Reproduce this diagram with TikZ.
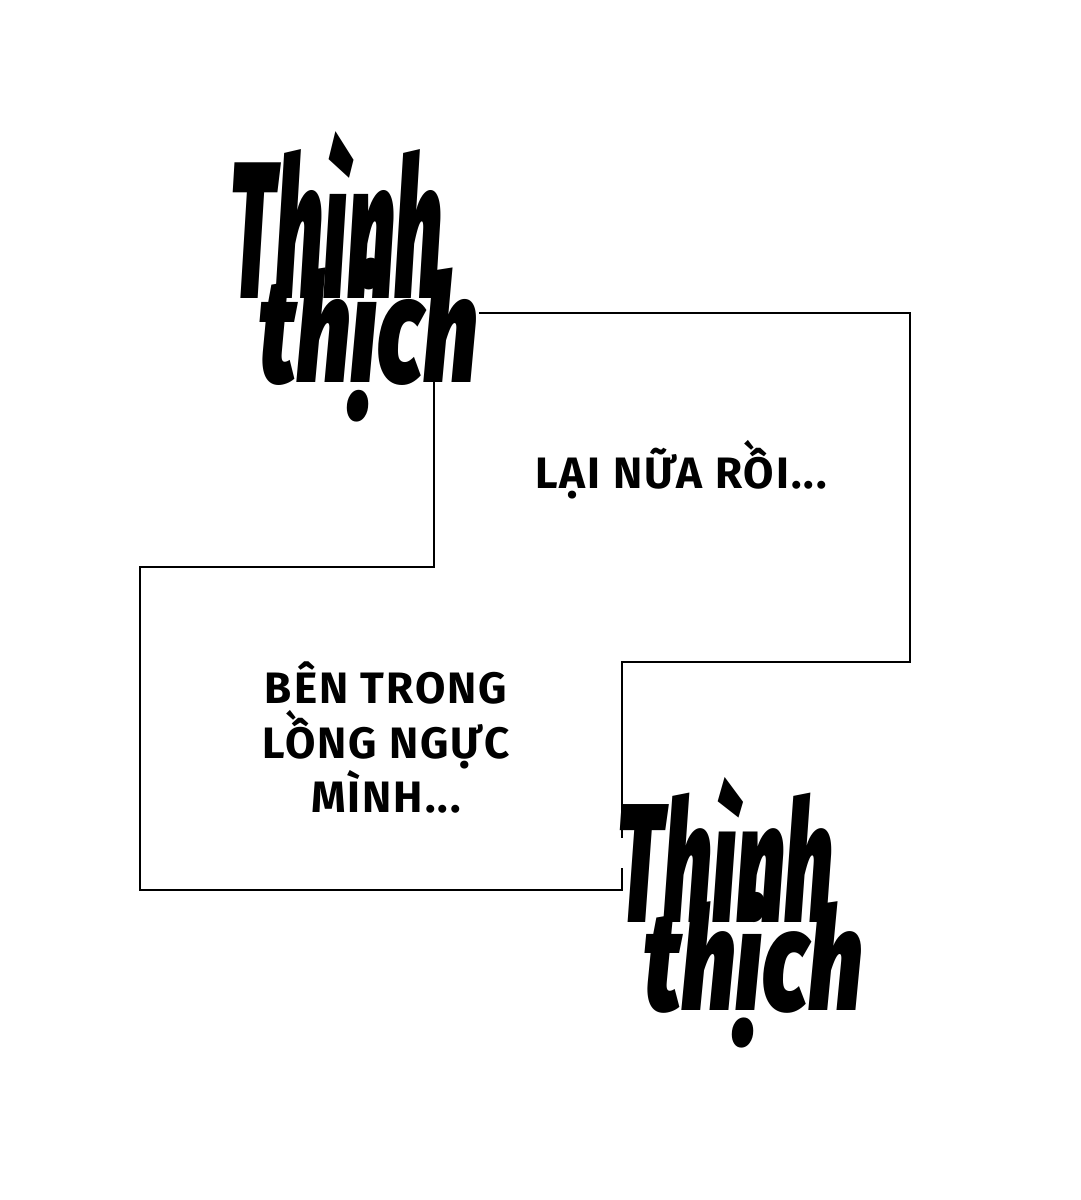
\documentclass[tikz,border=0pt]{standalone}
\usepackage{fontspec}
\setmainfont{Fira Sans}[BoldItalicFont={* Black Italic}]
\usepackage{tikz}

\begin{document}
\begin{tikzpicture}[x=1pt,y=-1pt,
    panel/.style={line width=2.6pt},
    speech/.style={anchor=base,inner sep=0pt,font=\bfseries\addfontfeatures{LetterSpace=4.5}\fontsize{44}{55}\selectfont},
    sfx/.style={anchor=base,inner sep=0pt,font=\bfseries\itshape\fontsize{150}{150}\selectfont}]
    \useasboundingbox[fill=white] (0,0) rectangle (1080,1200);
    % outline of the two panels
    \coordinate (tl) at (479,313);
    \coordinate (tr) at (910,313);
    \coordinate (br) at (910,662);
    \coordinate (step1) at (622,662);
    \coordinate (gap1) at (622,838);
    \coordinate (gap2) at (622,868);
    \coordinate (lr) at (622,890);
    \coordinate (ll) at (140,890);
    \coordinate (ul) at (140,567);
    \coordinate (step2) at (434,567);
    \coordinate (gap3) at (434,370);
    \draw[panel] (tl) -- (tr) -- (br) -- (step1) -- (gap1);
    \draw[panel] (gap2) -- (lr) -- (ll) -- (ul) -- (step2) -- (gap3);
    % speech
    \node[speech] (again) at (681,488) {LẠI NỮA RỒI...};
    \node[speech] (inside1) at (386,703) {BÊN TRONG};
    \node[speech] (inside2) at (386,758) {LỒNG NGỰC};
    \node[speech] (inside3) at (386,812) {MÌNH...};
    % sound effects
    \node[sfx] (thump1) at (336,298) {\scalebox{0.57}[1.3]{Thình}};
    \node[sfx] (thump2) at (368,382) {\scalebox{0.65}[1.0]{thịch}};
    \node[sfx] (thump3) at (725,922) {\scalebox{0.58}[1.13]{Thình}};
    \node[sfx] (thump4) at (753,1010) {\scalebox{0.65}[0.95]{thịch}};
\end{tikzpicture}
\end{document}
